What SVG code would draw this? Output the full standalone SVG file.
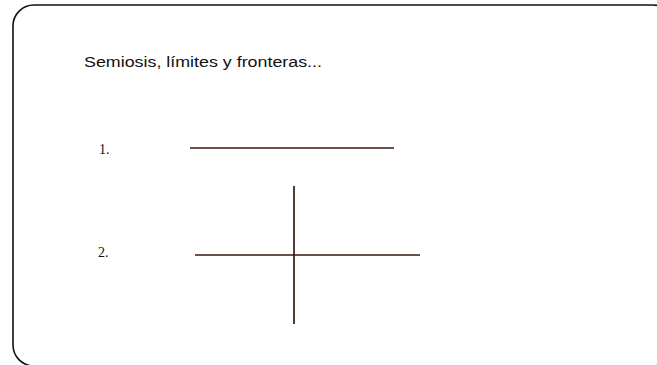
<svg xmlns="http://www.w3.org/2000/svg" width="657" height="365" viewBox="0 0 657 365">
<style>
.frame{fill:none;stroke:#111;stroke-width:1.6}
.title{font-family:"Liberation Sans",Arial,sans-serif;font-size:15.5px;fill:#111}
.num{font-family:"Liberation Serif","Times New Roman",serif;font-size:14px;fill:#111}
.ln{stroke:#3e150e;stroke-width:1.7;fill:none}
</style>
<rect width="657" height="365" fill="#fff"/>
<rect id="frame" class="frame" x="13" y="5" width="661" height="361" rx="21" ry="21"/>
<g id="title"><text class="title" x="84" y="67" textLength="238" lengthAdjust="spacingAndGlyphs">Semiosis, límites y fronteras...</text></g>
<g id="item1">
<text class="num" x="99" y="154">1.</text>
<line class="ln" x1="190" y1="148" x2="394" y2="148"/>
</g>
<g id="item2">
<text class="num" x="98" y="257">2.</text>
<line class="ln" x1="195" y1="255" x2="420" y2="255"/>
<line class="ln" x1="294" y1="186" x2="294" y2="324"/>
</g>
</svg>
